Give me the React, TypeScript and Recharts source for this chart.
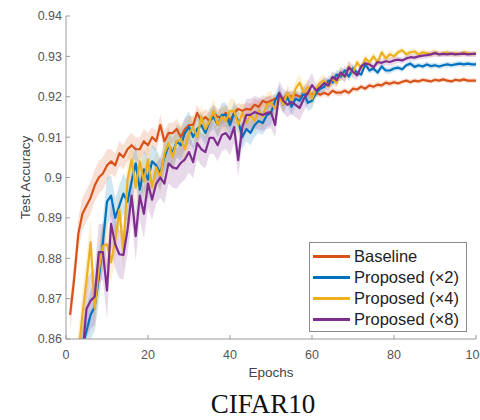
import React from 'react';
import { ComposedChart, Line, Area, XAxis, YAxis, Label } from 'recharts';

// Epochs 1..100 (x categories)
const epochs: number[] = Array.from({ length: 100 }, (_, i) => i + 1);

const baseline: number[] = [
  0.866, 0.875, 0.886, 0.891, 0.893, 0.895, 0.898, 0.9, 0.901, 0.903,
  0.904, 0.903, 0.906, 0.905, 0.907, 0.908, 0.907, 0.907, 0.909, 0.908,
  0.91, 0.909, 0.913, 0.909, 0.911, 0.911, 0.912, 0.91, 0.912, 0.913,
  0.913, 0.916, 0.914, 0.915, 0.914, 0.916, 0.915, 0.915, 0.916, 0.914,
  0.916, 0.917, 0.9165, 0.917, 0.9168, 0.918, 0.9175, 0.919, 0.9185, 0.919,
  0.9195, 0.92, 0.9195, 0.9205, 0.92, 0.9205, 0.92, 0.9205, 0.921, 0.9205,
  0.921, 0.9205, 0.921, 0.9205, 0.9215, 0.921, 0.921, 0.9215, 0.921, 0.922,
  0.9218, 0.9225, 0.922, 0.9228, 0.9225, 0.923, 0.9228, 0.9235, 0.9232, 0.9236,
  0.9233, 0.9237, 0.924, 0.9236, 0.924, 0.9238, 0.9242, 0.924, 0.9238, 0.9242,
  0.924, 0.9243, 0.924, 0.9238, 0.9242, 0.924, 0.9243, 0.924, 0.924, 0.924,
];

const proposed2: number[] = [
  0.835, 0.845, 0.852, 0.858, 0.862, 0.866, 0.868, 0.875, 0.884, 0.894,
  0.8955, 0.89, 0.893, 0.896, 0.894, 0.899, 0.9035, 0.897, 0.902, 0.8995,
  0.904, 0.903, 0.901, 0.905, 0.908, 0.906, 0.909, 0.908, 0.911, 0.9125,
  0.91, 0.912, 0.913, 0.911, 0.914, 0.915, 0.913, 0.9155, 0.9155, 0.913,
  0.916, 0.914, 0.91, 0.912, 0.911, 0.913, 0.914, 0.9135, 0.9155, 0.916,
  0.919, 0.921, 0.918, 0.92, 0.9175, 0.9195, 0.919, 0.921, 0.9185, 0.919,
  0.921, 0.922, 0.9225, 0.924, 0.9235, 0.9255, 0.925, 0.9265, 0.925, 0.927,
  0.926, 0.9255, 0.928, 0.9265, 0.927, 0.926, 0.9275, 0.9265, 0.9265, 0.927,
  0.9272, 0.9268, 0.9278, 0.9282, 0.9274, 0.9278, 0.9275, 0.928, 0.9276, 0.9278,
  0.9275, 0.9278, 0.928, 0.9278, 0.928, 0.9282, 0.928, 0.9282, 0.928, 0.928,
];

const proposed4: number[] = [
  0.838, 0.848, 0.856, 0.866, 0.8745, 0.884, 0.8675, 0.877, 0.883, 0.8835,
  0.879, 0.8845, 0.892, 0.882, 0.8995, 0.9045, 0.8975, 0.904, 0.899, 0.9045,
  0.8975, 0.9025, 0.9, 0.906, 0.9085, 0.905, 0.909, 0.9095, 0.907, 0.911,
  0.9125, 0.91, 0.915, 0.912, 0.914, 0.9165, 0.913, 0.915, 0.914, 0.9165,
  0.9165, 0.913, 0.916, 0.9135, 0.9155, 0.914, 0.9165, 0.915, 0.918, 0.9185,
  0.917, 0.92, 0.918, 0.921, 0.919, 0.922, 0.9235, 0.921, 0.9225, 0.9195,
  0.922, 0.9235, 0.924, 0.9225, 0.9245, 0.9235, 0.926, 0.925, 0.9275, 0.926,
  0.9285, 0.927, 0.9295, 0.9285, 0.93, 0.9285, 0.931, 0.9295, 0.9305, 0.93,
  0.931, 0.9315, 0.9305, 0.931, 0.9312, 0.9305, 0.931, 0.9308, 0.9305, 0.931,
  0.9305, 0.9308, 0.931, 0.9305, 0.9308, 0.9305, 0.931, 0.9308, 0.9305, 0.9308,
];

const proposed8: number[] = [
  0.83, 0.838, 0.848, 0.856, 0.8675, 0.8695, 0.8705, 0.8815, 0.8815, 0.872,
  0.8885, 0.8835, 0.881, 0.8808, 0.887, 0.8955, 0.8855, 0.8955, 0.891, 0.8985,
  0.8945, 0.8985, 0.9, 0.8985, 0.9035, 0.9025, 0.9022, 0.9036, 0.9045, 0.9063,
  0.9038, 0.9085, 0.907, 0.9063, 0.9098, 0.9098, 0.908, 0.9105, 0.911, 0.9095,
  0.9125, 0.9043, 0.9125, 0.9155, 0.9155, 0.9162, 0.9158, 0.9155, 0.916, 0.9162,
  0.913, 0.9209, 0.919, 0.918, 0.9187, 0.918, 0.9172, 0.9195, 0.9209, 0.9229,
  0.9215, 0.9224, 0.9234, 0.9228, 0.9249, 0.9241, 0.926, 0.925, 0.9273, 0.9262,
  0.9253, 0.9275, 0.9283, 0.928, 0.9273, 0.9286, 0.9284, 0.9288, 0.9286, 0.929,
  0.9292, 0.929, 0.9295, 0.9298, 0.9297, 0.93, 0.9302, 0.9303, 0.9305, 0.9308,
  0.9305, 0.9306, 0.9305, 0.9307, 0.9305, 0.9306, 0.9307, 0.9305, 0.9306, 0.9306,
];

// Half-width of the shaded band, per block of 10 epochs
const baselineSpread: number[] = [0.004, 0.003, 0.0025, 0.002, 0.0015, 0.001, 0.0008, 0.0007, 0.0006, 0.0006];
const proposed2Spread: number[] = [0.006, 0.005, 0.004, 0.003, 0.003, 0.002, 0.0012, 0.0008, 0.0007, 0.0007];
const proposed4Spread: number[] = [0.006, 0.005, 0.004, 0.003, 0.003, 0.002, 0.0015, 0.001, 0.0008, 0.0007];
const proposed8Spread: number[] = [0.007, 0.006, 0.005, 0.004, 0.004, 0.003, 0.0015, 0.001, 0.0008, 0.0007];

const seriesNames: string[] = ['Baseline', 'Proposed (\u00d72)', 'Proposed (\u00d74)', 'Proposed (\u00d78)'];
const seriesColors: string[] = ['#D95319', '#0072BD', '#EDB120', '#7E2F8E'];

const xTicks: number[] = [0, 20, 40, 60, 80, 100];
const yTicks: number[] = [0.86, 0.87, 0.88, 0.89, 0.9, 0.91, 0.92, 0.93, 0.94];

const keys = ['s0', 's1', 's2', 's3'];
const allSeries = [baseline, proposed2, proposed4, proposed8];
const allSpreads = [baselineSpread, proposed2Spread, proposed4Spread, proposed8Spread];

const data = epochs.map((e, i) => {
  const row: any = { epoch: e };
  allSeries.forEach((s, k) => {
    const sp = allSpreads[k][Math.floor(i / 10)];
    row[keys[k]] = s[i];
    row[keys[k] + 'band'] = [s[i] - sp, s[i] + sp];
  });
  return row;
});

const FONT = '"Liberation Sans", Arial, Helvetica, sans-serif';

export default function App() {
  return (
    <div style={{ position: 'absolute', left: 0, top: 0, width: 480, height: 420, background: '#fff', overflow: 'hidden' }}>
      <ComposedChart
        width={480}
        height={420}
        data={data}
        margin={{ top: 16, right: 4, bottom: 36, left: 0 }}
      >
        {keys.map((k, idx) => (
          <Area
            key={k + 'band'}
            type="linear"
            dataKey={k + 'band'}
            stroke="none"
            fill={seriesColors[idx]}
            fillOpacity={0.18}
            isAnimationActive={false}
            activeDot={false}
          />
        ))}
        {keys.map((k, idx) => (
          <Line
            key={k}
            type="linear"
            dataKey={k}
            stroke={seriesColors[idx]}
            strokeWidth={2.2}
            dot={false}
            activeDot={false}
            isAnimationActive={false}
            strokeLinejoin="round"
          />
        ))}
        <XAxis
          dataKey="epoch"
          type="number"
          domain={[0, 100]}
          ticks={xTicks}
          allowDataOverflow
          height={45}
          tickSize={-4}
          tickMargin={15}
          interval={0}
          stroke="#9a9a9a"
          tick={{ fill: '#555', fontSize: 12.5, fontFamily: FONT }}
        >
          <Label value="Epochs" position="insideBottom" offset={7} style={{ fill: '#444', fontSize: 13.5, fontFamily: FONT }} />
        </XAxis>
        <YAxis
          type="number"
          domain={[0.86, 0.94]}
          ticks={yTicks}
          allowDataOverflow
          width={66}
          tickSize={-4}
          tickMargin={8}
          interval={0}
          stroke="#9a9a9a"
          tickFormatter={(v: number) => String(v)}
          tick={{ fill: '#555', fontSize: 12.5, fontFamily: FONT }}
        >
          <Label
            value="Test Accuracy"
            angle={-90}
            position="insideLeft"
            offset={25}
            style={{ fill: '#444', fontSize: 13.5, fontFamily: FONT, textAnchor: 'middle' }}
          />
        </YAxis>
      </ComposedChart>

      <div
        style={{
          position: 'absolute',
          left: 309,
          top: 242,
          width: 156,
          height: 85,
          border: '1px solid #8a8a8a',
          background: '#fff',
          paddingTop: 3,
          boxSizing: 'content-box',
          fontFamily: FONT,
          fontSize: 16.5,
          color: '#222',
        }}
      >
        {seriesNames.map((name, idx) => (
          <div key={name} style={{ display: 'flex', alignItems: 'center', height: 21, whiteSpace: 'nowrap' }}>
            <div style={{ marginLeft: 3, width: 37, height: 2.5, background: seriesColors[idx] }} />
            <span style={{ marginLeft: 4, lineHeight: '21px' }}>{name}</span>
          </div>
        ))}
      </div>

      <div
        style={{
          position: 'absolute',
          left: 163,
          top: 391,
          width: 200,
          textAlign: 'center',
          fontFamily: '"Liberation Serif", "Times New Roman", serif',
          fontSize: 27,
          lineHeight: '27px',
          color: '#111',
        }}
      >
        CIFAR10
      </div>
    </div>
  );
}
